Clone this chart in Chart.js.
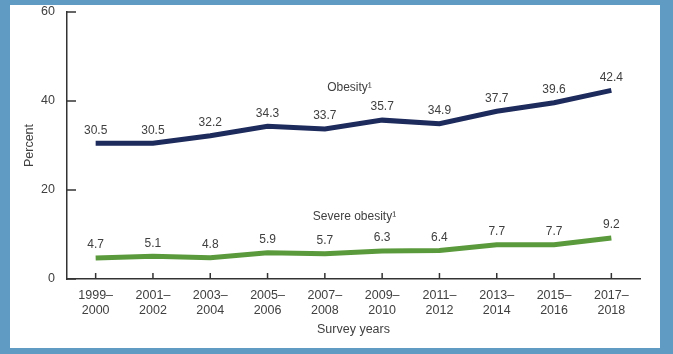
<!DOCTYPE html>
<html>
<head>
<meta charset="utf-8">
<script src="https://cdn.jsdelivr.net/npm/chart.js@4/dist/chart.umd.min.js"></script>
<style>
  html, body { margin: 0; padding: 0; background: #5f9bc3; }
  #wrap { width: 673px; height: 354px; }
</style>
</head>
<body>
<div id="wrap"><canvas id="chart" width="673" height="354"></canvas></div>
<script>
// Survey periods (two-line tick labels)
const surveyYears = [
    ['1999–', '2000'], ['2001–', '2002'], ['2003–', '2004'], ['2005–', '2006'], ['2007–', '2008'],
    ['2009–', '2010'], ['2011–', '2012'], ['2013–', '2014'], ['2015–', '2016'], ['2017–', '2018']
];
const obesity = [30.5, 30.5, 32.2, 34.3, 33.7, 35.7, 34.9, 37.7, 39.6, 42.4];
const severeObesity = [4.7, 5.1, 4.8, 5.9, 5.7, 6.3, 6.4, 7.7, 7.7, 9.2];
const yTicks = [0, 20, 40, 60];

const textColor = '#404040';
const axisColor = '#333333';
const fontFamily = '"Liberation Sans", Arial, sans-serif';

// White panel inside the blue frame.
const framePlugin = {
    id: 'frame',
    beforeDraw(chart) {
        const c = chart.ctx;
        c.save();
        c.fillStyle = '#5f9bc3';
        c.fillRect(0, 0, chart.width, chart.height);
        c.fillStyle = '#ffffff';
        c.fillRect(10, 5, 650, 343);
        c.restore();
    }
};

// Inward tick marks on both axes.
const tickPlugin = {
    id: 'innerTicks',
    afterDraw(chart) {
        const c = chart.ctx;
        const x = chart.scales.x, y = chart.scales.y;
        c.save();
        c.strokeStyle = axisColor;
        c.lineWidth = 1.5;
        yTicks.forEach(v => {
            const py = y.getPixelForValue(v);
            c.beginPath();
            c.moveTo(x.left, py);
            c.lineTo(x.left + 9, py);
            c.stroke();
        });
        surveyYears.forEach((_, i) => {
            const px = x.getPixelForValue(i);
            c.beginPath();
            c.moveTo(px, y.bottom);
            c.lineTo(px, y.bottom - 6);
            c.stroke();
        });
        c.restore();
    }
};

// Value labels above each point, plus the series names.
const labelPlugin = {
    id: 'valueLabels',
    afterDatasetsDraw(chart) {
        const c = chart.ctx;
        const x = chart.scales.x, y = chart.scales.y;
        c.save();
        c.fillStyle = textColor;
        c.font = '12px ' + fontFamily;
        c.textAlign = 'center';
        c.textBaseline = 'middle';
        chart.data.datasets.forEach((ds, di) => {
            chart.getDatasetMeta(di).data.forEach((pt, i) => {
                c.fillText(ds.data[i].toFixed(1), pt.x, pt.y - 13);
            });
        });
        const midX = (x.getPixelForValue(4) + x.getPixelForValue(5)) / 2;
        c.fillText('Obesity¹', midX - 4, y.getPixelForValue(43.1));
        c.fillText('Severe obesity¹', midX + 1, y.getPixelForValue(13.9));
        c.restore();
    }
};

new Chart(document.getElementById('chart'), {
    type: 'line',
    data: {
        labels: surveyYears,
        datasets: [
            {
                label: 'Obesity',
                data: obesity,
                borderColor: '#1d2a5c',
                borderWidth: 5,
                pointRadius: 0,
                tension: 0
            },
            {
                label: 'Severe obesity',
                data: severeObesity,
                borderColor: '#5b9a3c',
                borderWidth: 5,
                pointRadius: 0,
                tension: 0
            }
        ]
    },
    options: {
        responsive: false,
        animation: false,
        layout: { padding: { left: 10, right: 33, top: 12, bottom: 6 } },
        plugins: { legend: { display: false }, tooltip: { enabled: false } },
        scales: {
            x: {
                offset: true,
                grid: { display: false, drawTicks: false },
                border: { display: true, color: axisColor, width: 1.5 },
                ticks: {
                    color: textColor,
                    padding: 9,
                    maxRotation: 0,
                    autoSkip: false,
                    font: { family: fontFamily, size: 12.5, lineHeight: 1.2 }
                },
                title: {
                    display: true,
                    text: 'Survey years',
                    color: textColor,
                    font: { family: fontFamily, size: 12.5 },
                    padding: { top: 0, bottom: 11 }
                },
                afterFit(s) { s.height = 69; s.paddingLeft = 0; s.paddingRight = 0; }
            },
            y: {
                min: 0,
                max: 60,
                afterBuildTicks(s) { s.ticks = yTicks.map(v => ({ value: v })); },
                grid: { display: false, drawTicks: false },
                border: { display: true, color: axisColor, width: 1.5 },
                ticks: {
                    color: textColor,
                    padding: 12,
                    font: { family: fontFamily, size: 12.5 }
                },
                title: {
                    display: true,
                    text: 'Percent',
                    color: textColor,
                    font: { family: fontFamily, size: 12.5 },
                    padding: { top: 12, bottom: 0 }
                },
                afterFit(s) { s.width = 57; s.paddingTop = 0; s.paddingBottom = 0; }
            }
        }
    },
    plugins: [framePlugin, tickPlugin, labelPlugin]
});
</script>
</body>
</html>
